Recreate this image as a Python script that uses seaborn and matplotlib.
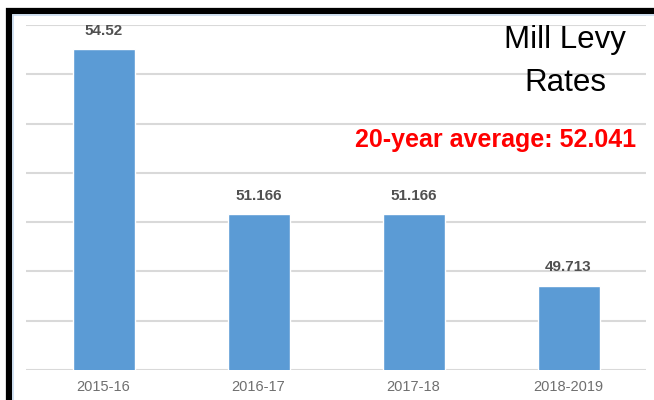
import pandas as pd
import seaborn as sns
import matplotlib.pyplot as plt
from matplotlib.lines import Line2D

periods = ['2015-16', '2016-17', '2017-18', '2018-2019']
rates = [54.52, 51.166, 51.166, 49.713]
title_lines = ['Mill Levy', 'Rates']
average_note = '20-year average: 52.041'

df = pd.DataFrame({'Period': periods, 'Rate': rates})

sns.set_style('white')
plt.rcParams['font.family'] = ['Liberation Sans', 'DejaVu Sans']

W, H = 654, 400
fig = plt.figure(figsize=(W / 100, H / 100), dpi=100)
ax = fig.add_axes([26 / W, 30 / H, 620 / W, 345 / H])

sns.barplot(data=df, x='Period', y='Rate', color='#5b9bd5', width=0.4,
            saturation=1, ax=ax, zorder=3)
ax.set_ylim(48, 55)
ax.set_xlim(-0.5, 3.5)
ax.set_yticks(range(48, 56))
ax.yaxis.grid(True, color='#d9d9d9', linewidth=1.5, zorder=0)
ax.set_axisbelow(True)
ax.set_yticklabels([])
ax.set_xlabel('')
ax.set_ylabel('')
ax.tick_params(axis='both', length=0)
ax.tick_params(axis='x', pad=7, labelsize=10.5, labelcolor='#6f6f6f')
for s in ax.spines.values():
    s.set_visible(False)

ax.bar_label(ax.containers[0], fmt='{:g}', padding=8, fontsize=11,
             fontweight='bold', color='#505050')

# titles
fig.text(565 / W, 1 - 48 / H, title_lines[0], ha='center', va='baseline',
         fontsize=22.5, color='black')
fig.text(565 / W, 1 - 91 / H, title_lines[1], ha='center', va='baseline',
         fontsize=22.5, color='black')
fig.text(496 / W, 1 - 147 / H, average_note, ha='center', va='baseline',
         fontsize=18, fontweight='bold', color='#ff0000')

# frame around the pasted chart
x0, y0 = 8.5 / W, 1 - 11 / H
fig.add_artist(Line2D([x0, x0, 1.05], [-0.05, y0, y0], color='black',
                      linewidth=4.5, solid_joinstyle='miter'))
x1, y1 = 13 / W, 1 - 15 / H
fig.add_artist(Line2D([x1, x1, 1.05], [-0.05, y1, y1], color='#c9dcef',
                      linewidth=1.2))

fig.savefig('out.png', dpi=100)
